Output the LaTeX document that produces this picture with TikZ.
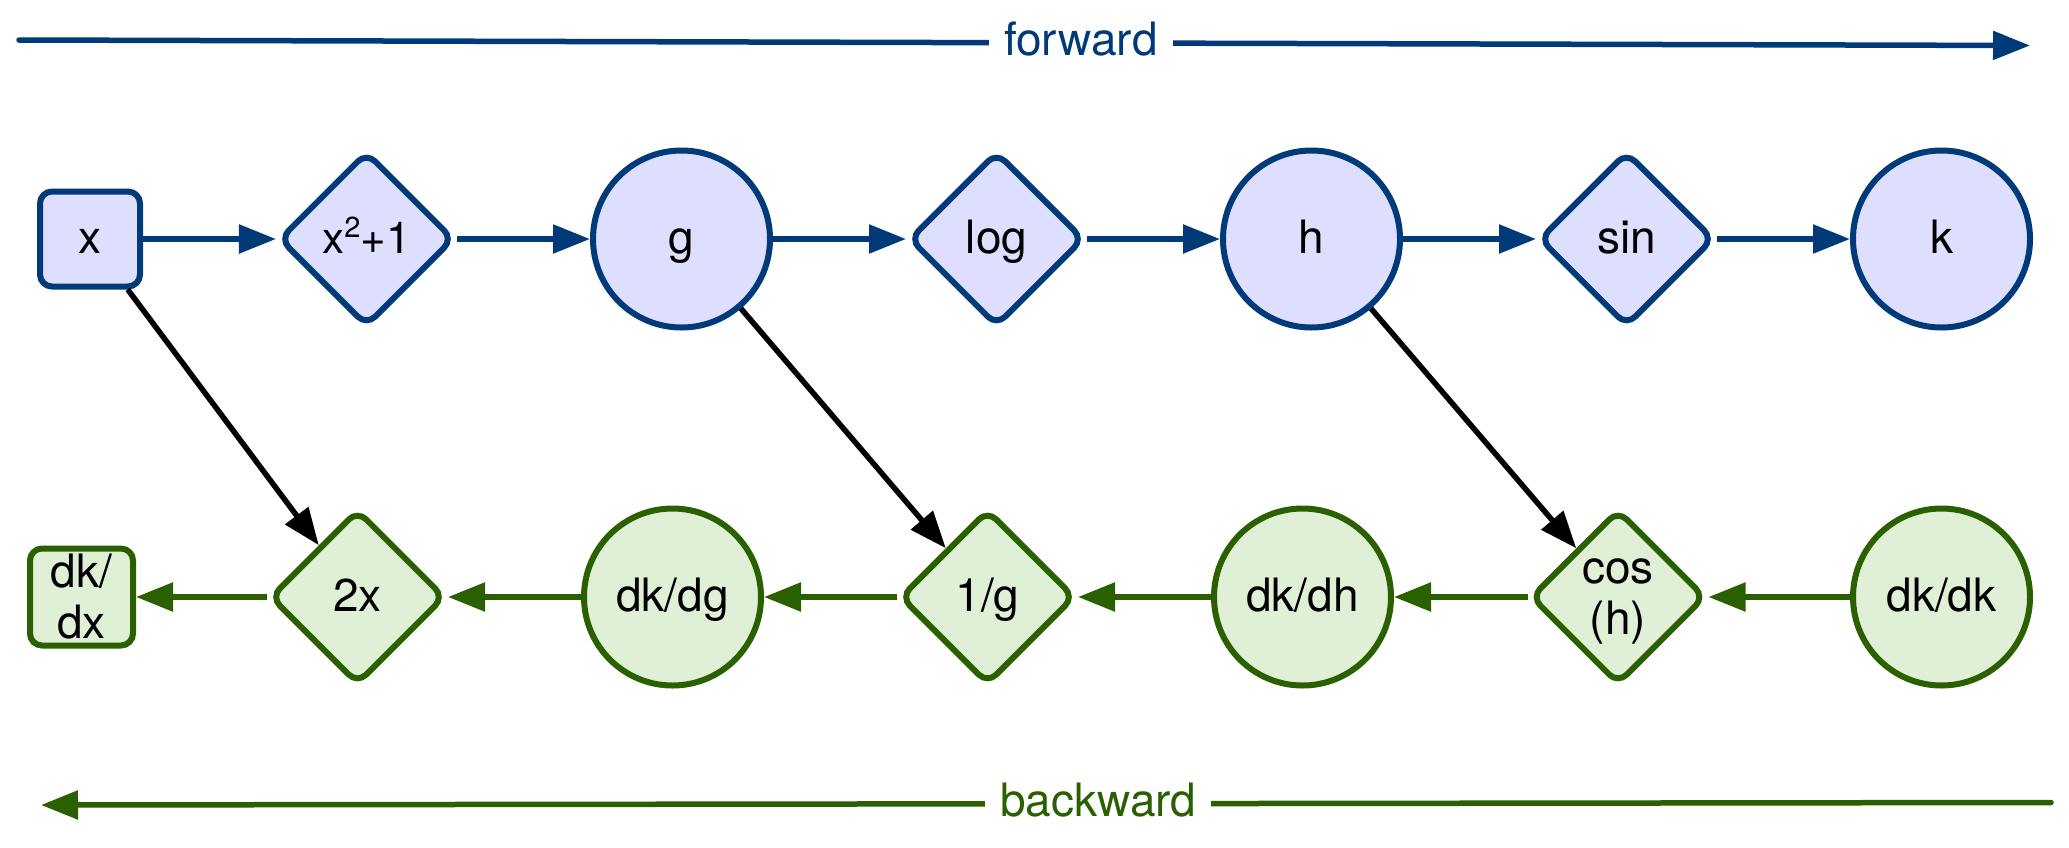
\documentclass[tikz,border=0pt]{standalone}
\usepackage{fontspec}
\setmainfont{TeX Gyre Heros}
\usetikzlibrary{shapes.geometric,arrows.meta}
\definecolor{fblue}{RGB}{0,58,120}
\definecolor{flav}{RGB}{222,223,255}
\definecolor{bgreen}{RGB}{42,96,0}
\definecolor{bfill}{RGB}{224,240,214}
\begin{document}
\begin{tikzpicture}[x=1pt,y=-1pt,
  every node/.style={font=\fontsize{46pt}{51pt}\selectfont, text=black, inner sep=0pt},
  fw/.style={draw=fblue, fill=flav, line width=6pt},
  bw/.style={draw=bgreen, fill=bfill, line width=6pt},
  circ/.style={circle, minimum size=177pt},
  dia/.style={diamond, shape aspect=1, minimum size=175pt, rounded corners=12pt},
  rbox/.style={rectangle, rounded corners=12pt},
  one/.style={text height=32pt, text depth=3pt},
  tip/.style={-{Triangle[length=37pt,width=28pt]}},
  farr/.style={tip, draw=fblue, line width=5.5pt},
  barr/.style={tip, draw=bgreen, line width=5.5pt},
  karr/.style={tip, draw=black, line width=5.5pt},
  lbl/.style={fill=white, inner xsep=15pt, inner ysep=4pt, text height=30pt, text depth=4pt}
]
\useasboundingbox (0,0) rectangle (2069,847);

% forward row
\node[fw, rbox, minimum width=100pt, minimum height=95pt, one] (x) at (90,239) {x};
\node[fw, dia, one, font=\fontsize{44pt}{50pt}\selectfont] (sq) at (366.5,239) {x\raisebox{16pt}{\fontsize{29pt}{32pt}\selectfont 2}+1};
\node[fw, circ, one] (g) at (681.5,239) {g};
\node[fw, dia, one] (log) at (996.5,239) {log};
\node[fw, circ, one] (h) at (1311.5,239) {h};
\node[fw, dia, one] (sin) at (1626.5,239) {sin};
\node[fw, circ, one] (k) at (1941.5,239) {k};

% backward row
\node[bw, rbox, minimum width=103pt, minimum height=97pt, align=center] (dkdx) at (81.5,597) {dk/\\dx};
\node[bw, dia, one] (twox) at (357.5,597) {2x};
\node[bw, circ, one] (dkdg) at (672.5,597) {dk/dg};
\node[bw, dia, one] (invg) at (987.5,597) {1/g};
\node[bw, circ, one] (dkdh) at (1302.5,597) {dk/dh};
\node[bw, dia, align=center] (cos) at (1618,597) {\vphantom{d}cos\\(h)};
\node[bw, circ, one] (dkdk) at (1941.5,597) {dk/dk};

% forward connectors
\draw[farr] (x) -- (sq);
\draw[farr] (sq) -- (g);
\draw[farr] (g) -- (log);
\draw[farr] (log) -- (h);
\draw[farr] (h) -- (sin);
\draw[farr] (sin) -- (k);

% backward connectors
\draw[barr] (dkdk) -- (cos);
\draw[barr] (cos) -- (dkdh);
\draw[barr] (dkdh) -- (invg);
\draw[barr] (invg) -- (dkdg);
\draw[barr] (dkdg) -- (twox);
\draw[barr] (twox) -- (dkdx);

% cross connectors
\draw[karr] (x) -- (twox);
\draw[karr] (g) -- (invg);
\draw[karr] (h) -- (cos);

% direction arrows
\coordinate (fs) at (19,40);
\coordinate (fe) at (2030,45.5);
\draw[farr, line cap=round] (fs) -- node[pos=0.528, lbl, text=fblue] (flab) {forward} (fe);
\coordinate (bs) at (2051,802.5);
\coordinate (be) at (41,805);
\draw[barr, line cap=round] (bs) -- node[pos=0.474, lbl, text=bgreen] (blab) {backward} (be);
\end{tikzpicture}
\end{document}
